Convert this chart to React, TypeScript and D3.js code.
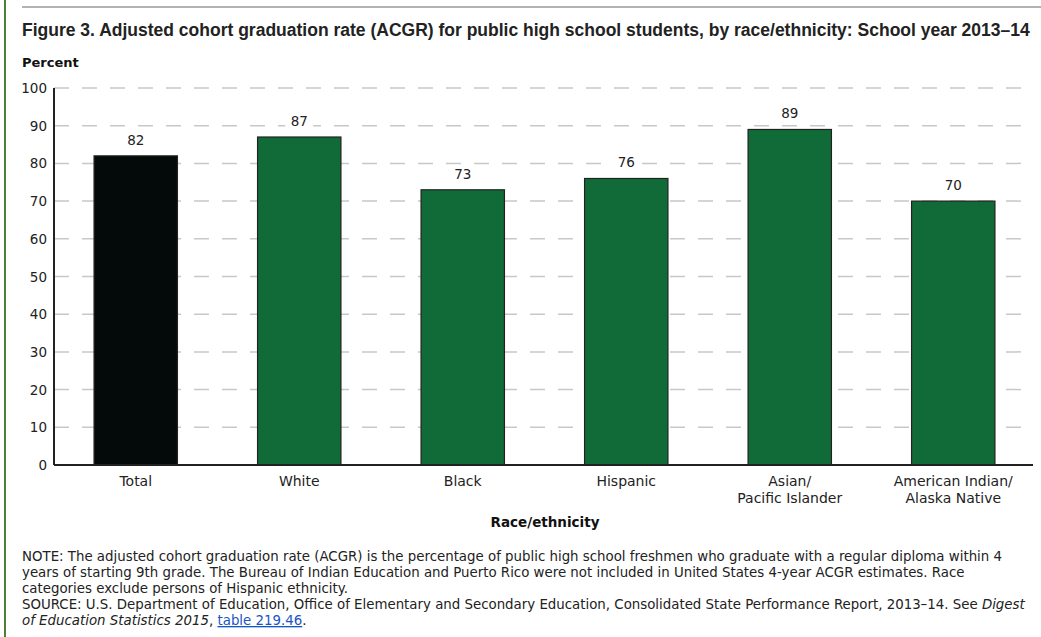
import React from "react";
import * as d3 from "d3";

const categories = ["Total", "White", "Black", "Hispanic", "Asian/\nPacific Islander", "American Indian/\nAlaska Native"];
const values = [82, 87, 73, 76, 89, 70];
const yTicks = [0, 10, 20, 30, 40, 50, 60, 70, 80, 90, 100];

const title = "Figure 3. Adjusted cohort graduation rate (ACGR) for public high school students, by race/ethnicity: School year 2013–14";
const noteLines = [
  "NOTE: The adjusted cohort graduation rate (ACGR) is the percentage of public high school freshmen who graduate with a regular diploma within 4",
  "years of starting 9th grade. The Bureau of Indian Education and Puerto Rico were not included in United States 4-year ACGR estimates. Race",
  "categories exclude persons of Hispanic ethnicity.",
  "SOURCE: U.S. Department of Education, Office of Elementary and Secondary Education, Consolidated State Performance Report, 2013–14. See ",
];

export default function App() {
  const W = 1041, H = 637;
  const x0 = 54, x1 = 1035, yTop = 88, yBot = 465;
  const x = d3.scaleBand<string>().domain(categories).range([x0, x1]).paddingInner(0.49).paddingOuter(0.245);
  const y = d3.scaleLinear().domain([0, 100]).range([yBot, yTop]);
  const axisFont = "'DejaVu Sans', Verdana, sans-serif";
  const noteFont = "'DejaVu Sans', Verdana, sans-serif";
  const green = "#116b38";
  const nfs = 13.35;
  return (
    <svg width={W} height={H} style={{ position: "absolute", left: 0, top: 0, background: "#fff" }}>
      <rect x={0} y={0} width={W} height={H} fill="#fff" />
      <line x1={5} x2={5} y1={0} y2={H} stroke="#4f7d3c" strokeWidth={2} />
      <line x1={22} x2={W} y1={7} y2={7} stroke="#999" strokeWidth={1.5} />
      <text x={22} y={36} fontFamily="'Liberation Sans', Arial, sans-serif" fontWeight="bold" fontSize={17.5} fill="#222">{title}</text>
      <text x={22} y={67} fontFamily={axisFont} fontWeight="bold" fontSize={13} fill="#111">Percent</text>
      {yTicks.map((t) => (
        <g key={t}>
          {t > 0 && (
            <line x1={x0} x2={1030} y1={y(t)} y2={y(t)} stroke="#c8c8c8" strokeWidth={1.5} strokeDasharray="15,13" />
          )}
          <text x={47} y={y(t) + 5} textAnchor="end" fontFamily={axisFont} fontSize={13.5} fill="#222">{t}</text>
        </g>
      ))}
      {categories.map((c, i) => {
        const v = values[i];
        const bx = x(c)!;
        const cx = bx + x.bandwidth() / 2;
        return (
          <g key={c}>
            <rect x={bx} y={y(v)} width={x.bandwidth()} height={yBot - y(v)} fill={i === 0 ? "#040a0a" : green} stroke="#222" strokeWidth={1.2} />
            <rect x={cx - 14} y={y(v) - 25} width={28} height={17} fill="#fff" />
            <text x={cx} y={y(v) - 11} textAnchor="middle" fontFamily={axisFont} fontSize={13.5} fill="#222">{v}</text>
            {c.split("\n").map((line, j) => (
              <text key={j} x={cx} y={486 + j * 17} textAnchor="middle" fontFamily={axisFont} fontSize={14} fill="#222">{line}</text>
            ))}
          </g>
        );
      })}
      <line x1={x0} x2={x0} y1={yTop} y2={yBot} stroke="#222" strokeWidth={2} />
      <line x1={x0} x2={1033} y1={yBot} y2={yBot} stroke="#222" strokeWidth={2} />
      <text x={545} y={527} textAnchor="middle" fontFamily={axisFont} fontWeight="bold" fontSize={13.5} fill="#111">Race/ethnicity</text>
      {noteLines.map((l, i) => (
        <text key={i} x={22} y={561 + i * 16} fontFamily={noteFont} fontSize={nfs} fill="#222">
          {l}
          {i === 3 && <tspan fontStyle="italic">Digest</tspan>}
        </text>
      ))}
      <text x={22} y={625} fontFamily={noteFont} fontSize={nfs} fill="#222">
        <tspan fontStyle="italic">of Education Statistics 2015</tspan>
        <tspan>, </tspan>
        <tspan fill="#1a55c4" textDecoration="underline">table 219.46</tspan>
        <tspan>.</tspan>
      </text>
    </svg>
  );
}
